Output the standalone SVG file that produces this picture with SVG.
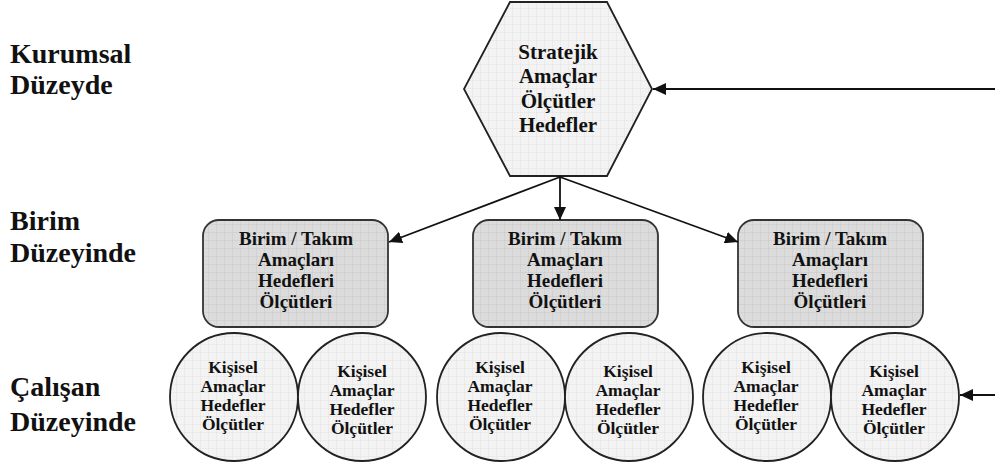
<svg xmlns="http://www.w3.org/2000/svg" width="995" height="466" viewBox="0 0 995 466">
  <defs>
    <!-- fine grid fills -->
    <pattern id="gridLight" width="8" height="8" patternUnits="userSpaceOnUse">
      <rect width="8" height="8" fill="#f3f3f3"/>
      <path d="M8 0H0V8" fill="none" stroke="#dedede" stroke-width="0.8"/>
    </pattern>
    <pattern id="gridDark" width="8" height="8" patternUnits="userSpaceOnUse">
      <rect width="8" height="8" fill="#dcdcdc"/>
      <path d="M8 0H0V8" fill="none" stroke="#c4c4c4" stroke-width="0.8"/>
    </pattern>
    <marker id="arrow" markerUnits="userSpaceOnUse" markerWidth="14" markerHeight="12" refX="13" refY="6" orient="auto">
      <path d="M0,0 L13,6 L0,12 z" fill="#111"/>
    </marker>
    <style>
      text { font-family: 'Liberation Serif', 'Times New Roman', Tinos, 'DejaVu Serif', serif; font-weight: bold; fill: #111; }
      .lvl { font-size: 28px; }
      .t-hex { font-size: 21px; text-anchor: middle; }
      .t-box { font-size: 19px; text-anchor: middle; }
      .t-cir { font-size: 17.5px; text-anchor: middle; }
      .hex { fill: url(#gridLight); stroke: #222; stroke-width: 1.8; }
      .box { fill: url(#gridDark); stroke: #333; stroke-width: 1.8; }
      .cir { fill: url(#gridLight); stroke: #222; stroke-width: 1.8; }
      .conn { fill: none; stroke: #111; stroke-width: 1.8; marker-end: url(#arrow); }
    </style>
  </defs>

  <rect width="995" height="466" fill="#ffffff"/>

  <!-- level labels -->
  <g id="labels" font-family="Liberation Serif, serif">
    <text class="lvl" x="10" y="63">Kurumsal</text>
    <text class="lvl" x="10" y="94">Düzeyde</text>
    <text class="lvl" x="10" y="230">Birim</text>
    <text class="lvl" x="10" y="262">Düzeyinde</text>
    <text class="lvl" x="10" y="396">Çalışan</text>
    <text class="lvl" x="10" y="431">Düzeyinde</text>
  </g>

  <!-- strategic level -->
  <g id="strateji">
    <polygon class="hex" points="510,2 607,2 652,89 607,176 510,176 464,89"/>
    <text class="t-hex" x="558" y="59">Stratejik</text>
    <text class="t-hex" x="558" y="83">Amaçlar</text>
    <text class="t-hex" x="558" y="108">Ölçütler</text>
    <text class="t-hex" x="558" y="132">Hedefler</text>
  </g>

  <!-- unit / team level -->
  <g id="birim1">
    <rect class="box" x="203" y="220" width="185" height="107" rx="16" ry="16"/>
    <text class="t-box" x="296" y="245">Birim / Takım</text>
    <text class="t-box" x="296" y="266">Amaçları</text>
    <text class="t-box" x="296" y="287">Hedefleri</text>
    <text class="t-box" x="296" y="308">Ölçütleri</text>
  </g>
  <g id="birim2">
    <rect class="box" x="473" y="220" width="185" height="107" rx="16" ry="16"/>
    <text class="t-box" x="565" y="245">Birim / Takım</text>
    <text class="t-box" x="565" y="266">Amaçları</text>
    <text class="t-box" x="565" y="287">Hedefleri</text>
    <text class="t-box" x="565" y="308">Ölçütleri</text>
  </g>
  <g id="birim3">
    <rect class="box" x="738" y="220" width="185" height="107" rx="16" ry="16"/>
    <text class="t-box" x="830" y="245">Birim / Takım</text>
    <text class="t-box" x="830" y="266">Amaçları</text>
    <text class="t-box" x="830" y="287">Hedefleri</text>
    <text class="t-box" x="830" y="308">Ölçütleri</text>
  </g>

  <!-- employee level -->
  <g id="kisi1">
    <circle class="cir" cx="234" cy="397" r="64"/>
    <text class="t-cir" x="233" y="373">Kişisel</text>
    <text class="t-cir" x="233" y="392">Amaçlar</text>
    <text class="t-cir" x="233" y="411">Hedefler</text>
    <text class="t-cir" x="233" y="430">Ölçütler</text>
  </g>
  <g id="kisi2">
    <circle class="cir" cx="362" cy="397" r="64"/>
    <text class="t-cir" x="362" y="377">Kişisel</text>
    <text class="t-cir" x="362" y="396">Amaçlar</text>
    <text class="t-cir" x="362" y="415">Hedefler</text>
    <text class="t-cir" x="362" y="434">Ölçütler</text>
  </g>
  <g id="kisi3">
    <circle class="cir" cx="501" cy="397" r="64"/>
    <text class="t-cir" x="500" y="373">Kişisel</text>
    <text class="t-cir" x="500" y="392">Amaçlar</text>
    <text class="t-cir" x="500" y="411">Hedefler</text>
    <text class="t-cir" x="500" y="430">Ölçütler</text>
  </g>
  <g id="kisi4">
    <circle class="cir" cx="629" cy="397" r="64"/>
    <text class="t-cir" x="628" y="377">Kişisel</text>
    <text class="t-cir" x="628" y="396">Amaçlar</text>
    <text class="t-cir" x="628" y="415">Hedefler</text>
    <text class="t-cir" x="628" y="434">Ölçütler</text>
  </g>
  <g id="kisi5">
    <circle class="cir" cx="767" cy="397" r="64"/>
    <text class="t-cir" x="766" y="373">Kişisel</text>
    <text class="t-cir" x="766" y="392">Amaçlar</text>
    <text class="t-cir" x="766" y="411">Hedefler</text>
    <text class="t-cir" x="766" y="430">Ölçütler</text>
  </g>
  <g id="kisi6">
    <circle class="cir" cx="895" cy="397" r="64"/>
    <text class="t-cir" x="894" y="377">Kişisel</text>
    <text class="t-cir" x="894" y="396">Amaçlar</text>
    <text class="t-cir" x="894" y="415">Hedefler</text>
    <text class="t-cir" x="894" y="434">Ölçütler</text>
  </g>

  <!-- connectors -->
  <g id="connectors">
    <line class="conn" x1="995" y1="89" x2="653" y2="89"/>
    <line class="conn" x1="560" y1="177" x2="389" y2="242"/>
    <line class="conn" x1="560" y1="177" x2="560" y2="220"/>
    <line class="conn" x1="560" y1="177" x2="738" y2="242"/>
    <line class="conn" x1="995" y1="395" x2="960" y2="395"/>
  </g>
</svg>
